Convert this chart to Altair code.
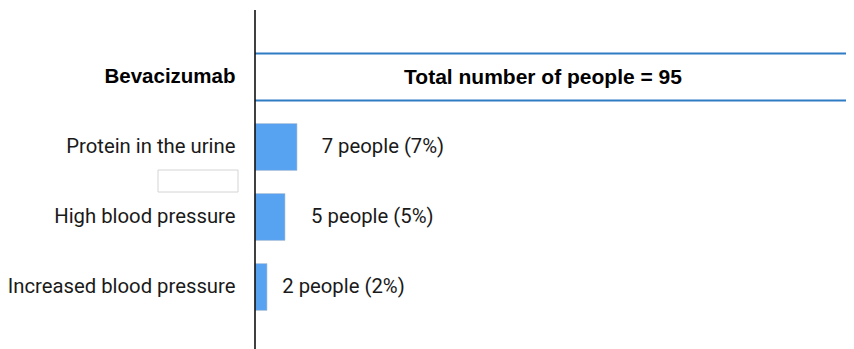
import altair as alt
import pandas as pd

# ---- data ----
group_label = "Bevacizumab"
total_people = 95
categories = ["Protein in the urine", "High blood pressure", "Increased blood pressure"]
people = [7, 5, 2]
percents = [7, 5, 2]

y_domain = [group_label] + categories

bars_df = pd.DataFrame({
    "cat": categories,
    "pct": percents,
    "label": [f"{n} people ({p}%)" for n, p in zip(people, percents)],
})
header_df = pd.DataFrame({
    "cat": [group_label],
    "label": [f"Total number of people = {total_people}"],
})

W, H = 591, 341
yscale = alt.Scale(domain=y_domain, range=[34, 314], paddingInner=0.33, paddingOuter=0.165)
xscale = alt.Scale(domain=[0, 100], range=[0, 600])
label_scale = alt.Scale(type="log", domain=[1, 10], range=[5.4, 77.9])

is_group = "datum.value == 'Bevacizumab'"
y_enc = alt.Y(
    "cat:N",
    scale=yscale,
    sort=y_domain,
    axis=alt.Axis(
        title=None,
        ticks=False,
        domain=False,
        labelAlign="right",
        labelPadding=20,
        labelFontSize=alt.expr(f"{is_group} ? 20.5 : 20.3"),
        labelLimit=300,
        labelColor=alt.expr(f"{is_group} ? '#000000' : '#1a1a1a'"),
        labelFont=alt.expr(f"{is_group} ? 'Liberation Sans' : 'Roboto'"),
        labelFontWeight=alt.expr(f"{is_group} ? 'bold' : 'normal'"),
    ),
)

bars = alt.Chart(bars_df).mark_bar(color="#58a2f2", stroke="#b9c4d0", strokeWidth=0.6).encode(
    y=y_enc,
    x=alt.X("pct:Q", scale=xscale, axis=None),
)

labels = alt.Chart(bars_df).mark_text(
    align="left", baseline="middle", fontSize=20.3, font="Roboto", color="#1a1a1a"
).encode(
    y=alt.Y("cat:N", scale=yscale, sort=y_domain),
    x=alt.X("pct:Q", scale=label_scale, axis=None),
    text="label:N",
)

hdr_top = alt.Chart(header_df).mark_rule(color="#2f7cc4", strokeWidth=2).encode(
    y=alt.Y("cat:N", scale=yscale, sort=y_domain, bandPosition=0),
    x=alt.value(0),
    x2=alt.value(W),
)
hdr_bot = alt.Chart(header_df).mark_rule(color="#2f7cc4", strokeWidth=2).encode(
    y=alt.Y("cat:N", scale=yscale, sort=y_domain, bandPosition=1),
    x=alt.value(0),
    x2=alt.value(W),
)
hdr_text = alt.Chart(header_df).mark_text(
    align="center", baseline="middle", fontSize=21, fontWeight="bold",
    font="Liberation Sans", color="#000000", dy=1
).encode(
    y=alt.Y("cat:N", scale=yscale, sort=y_domain),
    x=alt.value(288),
    text="label:N",
)

vline = alt.Chart(header_df).mark_rule(color="#111111", strokeWidth=1.6).encode(
    x=alt.value(0),
    y=alt.value(2),
    y2=alt.value(H),
)

box = alt.Chart(header_df).mark_rect(fill="white", stroke="#d4d4d4", strokeWidth=1).encode(
    x=alt.value(-97),
    x2=alt.value(-17),
    y=alt.value(162),
    y2=alt.value(184),
)

chart = alt.layer(box, bars, labels, hdr_top, hdr_bot, hdr_text, vline).resolve_scale(
    x="independent"
).properties(
    width=W,
    height=H,
    autosize=alt.AutoSizeParams(type="none"),
    padding={"left": 247, "top": 0, "right": 0, "bottom": 0},
).configure_view(stroke=None)

chart.save("out.html", embed_options={"renderer": "svg", "actions": False})
